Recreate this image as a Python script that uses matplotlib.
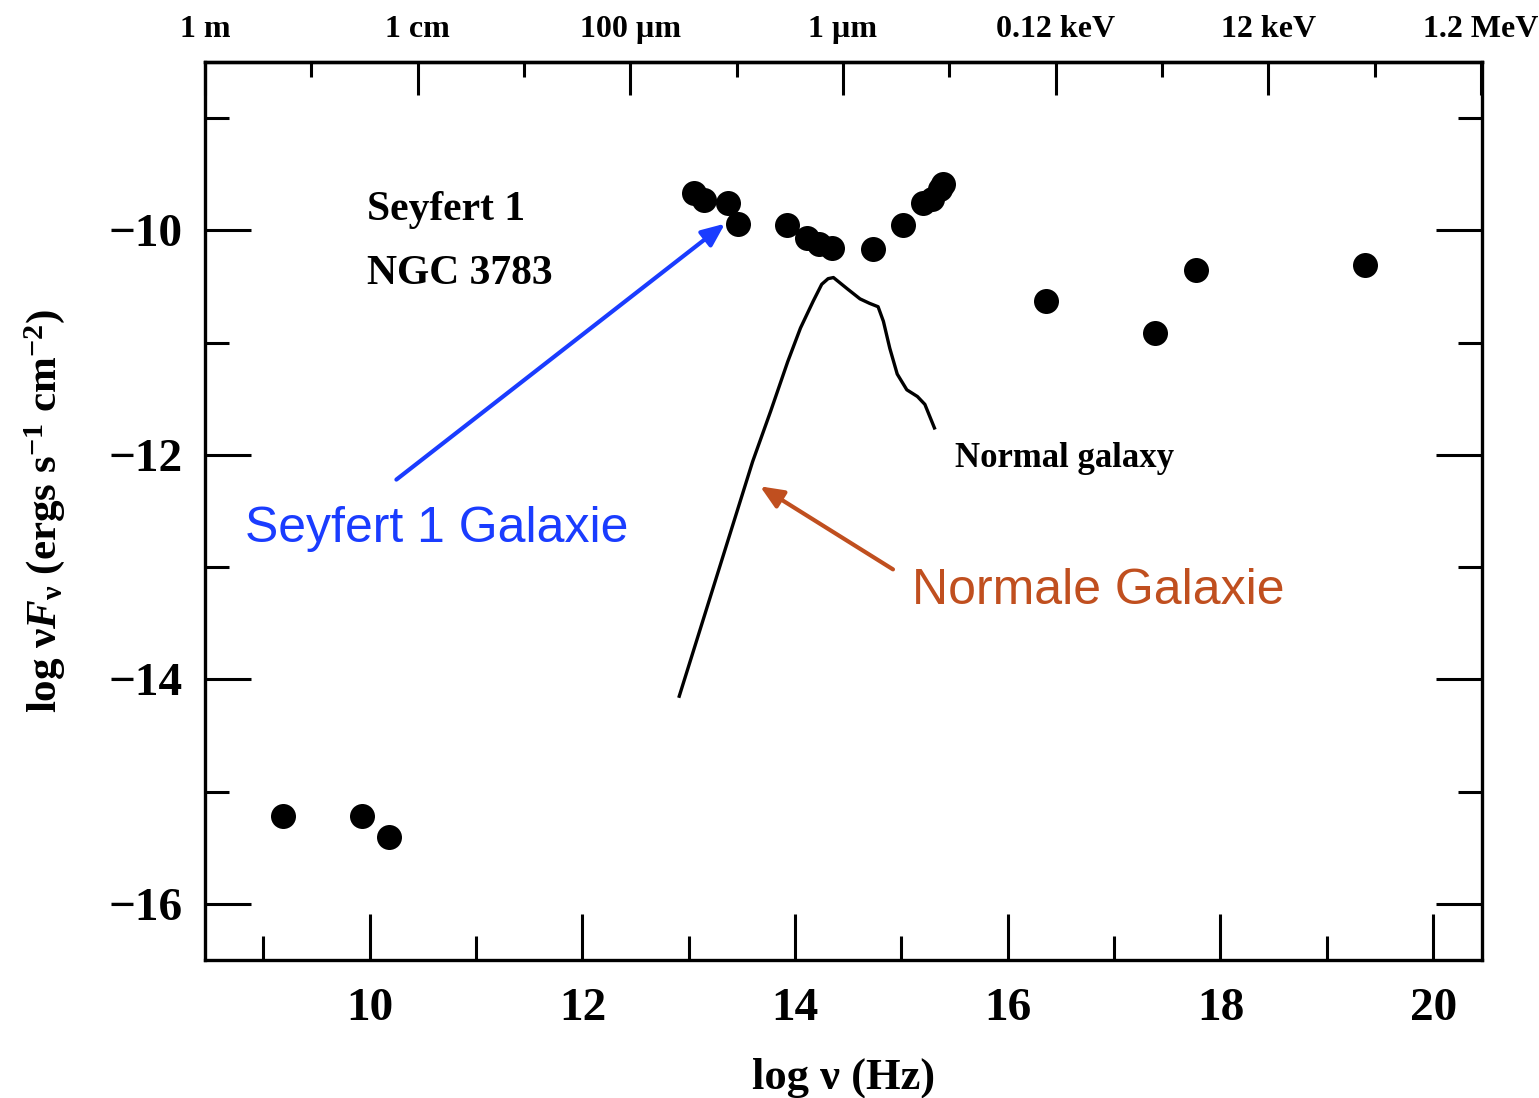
import numpy as np
import matplotlib
matplotlib.use("Agg")
import matplotlib.pyplot as plt

# Seyfert 1 (NGC 3783) data points: log nu (Hz), log nuF_nu
sey_x = [9.18, 9.93, 10.18, 13.05, 13.14, 13.37, 13.46, 13.92, 14.11, 14.22, 14.35,
         14.73, 15.01, 15.20, 15.29, 15.36, 15.39, 16.36, 17.38, 17.77, 19.36]
sey_y = [-15.22, -15.22, -15.40, -9.67, -9.73, -9.76, -9.94, -9.95, -10.07, -10.12, -10.16,
         -10.17, -9.95, -9.76, -9.72, -9.63, -9.59, -10.63, -10.91, -10.35, -10.31]

# Normal galaxy SED curve
gal_x = [12.91, 13.60, 13.77, 13.93, 14.05, 14.17, 14.25, 14.31, 14.36, 14.49, 14.61,
         14.70, 14.78, 14.83, 14.89, 14.96, 15.05, 15.15, 15.22, 15.31]
gal_y = [-14.15, -12.06, -11.61, -11.17, -10.87, -10.63, -10.48, -10.43, -10.42, -10.52, -10.61,
         -10.65, -10.68, -10.81, -11.05, -11.28, -11.42, -11.48, -11.55, -11.76]

bottom_ticks = [10, 12, 14, 16, 18, 20]
left_ticks = [-10, -12, -14, -16]
top_labels = ["1 m", "1 cm", "100 µm", "1 µm", "0.12 keV", "12 keV", "1.2 MeV"]

plt.rcParams['mathtext.fontset'] = 'custom'
plt.rcParams['mathtext.rm'] = 'Liberation Serif:bold'
plt.rcParams['mathtext.it'] = 'Liberation Serif:italic:bold'
plt.rcParams['mathtext.bf'] = 'Liberation Serif:bold'

serif = 'Liberation Serif'
sans = 'Liberation Sans'

fig = plt.figure(figsize=(15.39, 10.98), dpi=100)
ax = fig.add_axes([0.1332, 0.1257, 0.8298, 0.8178])

ax.plot(sey_x, sey_y, 'o', color='black', ms=18, mew=0)
ax.plot(gal_x, gal_y, '-', color='black', lw=2.4)

x0 = 8.45
ax.set_xlim(x0, 20.46)
ax.set_ylim(-16.5, -8.5)

for s in ax.spines.values():
    s.set_linewidth(2.4)

ax.set_xticks(bottom_ticks)
ax.set_xticks([9, 11, 13, 15, 17, 19], minor=True)
ax.set_yticks(left_ticks)
ax.set_yticks([-9, -11, -13, -15], minor=True)
ax.set_yticklabels(["\u2212%d" % abs(v) for v in left_ticks])
ax.tick_params(axis='both', which='major', direction='in', length=33, width=2.2,
               right=True, labelsize=34)
ax.tick_params(axis='x', which='major', pad=20)
ax.tick_params(axis='y', which='major', pad=16)
ax.tick_params(axis='both', which='minor', direction='in', length=17, width=2.2, right=True)
for lab in ax.get_xticklabels() + ax.get_yticklabels():
    lab.set_fontfamily(serif)
    lab.set_fontweight('bold')

# top axis in wavelength / energy
top = ax.secondary_xaxis('top')
top_major = [x0 + 2 * i for i in range(len(top_labels))]
top.set_xticks(top_major)
top.set_xticks([x0 + 1 + 2 * i for i in range(6)], minor=True)
top.set_xticklabels(top_labels)
top.tick_params(which='major', direction='in', length=24, width=2.2, labelsize=23, pad=13)
top.tick_params(which='minor', direction='in', length=11, width=2.2)
top.spines['top'].set_linewidth(2.4)
for lab in top.get_xticklabels():
    lab.set_fontfamily(serif)
    lab.set_fontweight('bold')

ax.set_xlabel('log ν (Hz)', fontsize=32, fontfamily=serif, fontweight='bold', labelpad=20)
ax.set_ylabel(r'log ν$F_{\mathrm{\nu}}$ (ergs s$^{-1}$ cm$^{-2}$)', fontsize=31, fontfamily=serif,
              fontweight='bold', labelpad=30)

ax.text(9.97, -9.82, "Seyfert 1", fontsize=30, fontfamily=serif, fontweight='bold', va='center')
ax.text(9.97, -10.39, "NGC 3783", fontsize=30, fontfamily=serif, fontweight='bold', va='center')
ax.text(15.50, -12.03, "Normal galaxy", fontsize=25, fontfamily=serif, fontweight='bold', va='center')

blue = '#1a3cff'
orange = '#c04f1f'
ax.annotate("", xy=(13.34, -9.94), xytext=(10.25, -12.22),
            arrowprops=dict(arrowstyle='-|>,head_length=1.4,head_width=0.6', color=blue, lw=3,
                            shrinkA=0, shrinkB=0))
ax.text(8.83, -12.66, "Seyfert 1 Galaxie", fontsize=36, fontfamily=sans, color=blue, va='center')
ax.annotate("", xy=(13.67, -12.28), xytext=(14.92, -13.02),
            arrowprops=dict(arrowstyle='-|>,head_length=1.4,head_width=0.6', color=orange, lw=3,
                            shrinkA=0, shrinkB=0))
ax.text(15.10, -13.21, "Normale Galaxie", fontsize=36, fontfamily=sans, color=orange, va='center')

fig.savefig("out.png", dpi=100, facecolor='white')
